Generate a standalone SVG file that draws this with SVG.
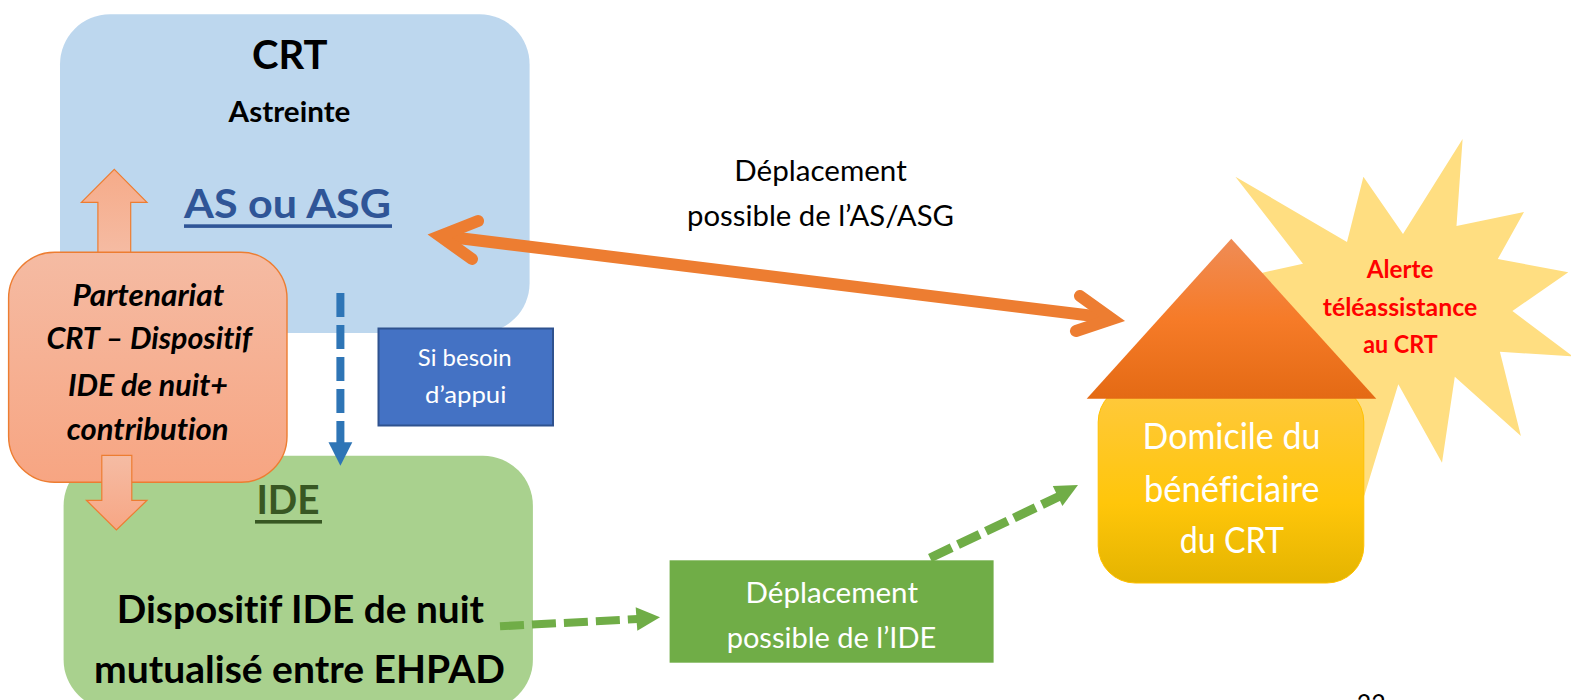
<svg xmlns="http://www.w3.org/2000/svg" width="1571" height="700" viewBox="0 0 1571 700">
<style>
text{font-family:Lato,"Liberation Sans",sans-serif;font-variant-ligatures:none}
.b{font-weight:700}
.i{font-weight:700;font-style:italic;fill:#000}
.w{fill:#fff}
.r{fill:#f00;font-weight:700}
</style>
<defs>
<linearGradient id="gP" x1="0" y1="0" x2="0" y2="1"><stop offset="0" stop-color="#f5bba3"/><stop offset="1" stop-color="#f7a582"/></linearGradient>
<linearGradient id="gU" x1="0" y1="0" x2="0" y2="1"><stop offset="0" stop-color="#f6ab89"/><stop offset="1" stop-color="#f5bca4"/></linearGradient>
<linearGradient id="gD" x1="0" y1="0" x2="0" y2="1"><stop offset="0" stop-color="#f5bca4"/><stop offset="1" stop-color="#f7a684"/></linearGradient>
<linearGradient id="gT" x1="0" y1="0" x2="0" y2="1"><stop offset="0" stop-color="#ef8c56"/><stop offset=".5" stop-color="#f67b28"/><stop offset="1" stop-color="#e46a14"/></linearGradient>
<linearGradient id="gH" x1="0" y1="0" x2="0" y2="1"><stop offset="0" stop-color="#ffc93f"/><stop offset=".6" stop-color="#ffc60a"/><stop offset="1" stop-color="#e4b400"/></linearGradient>
</defs>

<g id="star"><polygon fill="#ffde81" points="1235.4,176.7 1347,242 1363.4,176.7 1403,234 1462.6,139 1456.5,226 1524,212 1497.8,259 1568.3,272.3 1512.4,311 1573,356.5 1499.9,351.7 1520.9,436 1454.8,376.7 1442,462.7 1398.3,384.3 1364.5,495 1340,540 1250,400 1200,320 1262.5,272.7 1303,263.7"/>
<text class="r" font-size="25" x="1400" y="278" text-anchor="middle" textLength="66.7" lengthAdjust="spacingAndGlyphs">Alerte</text>
<text class="r" font-size="25" x="1400" y="315.5" text-anchor="middle" textLength="154.5" lengthAdjust="spacingAndGlyphs">téléassistance</text>
<text class="r" font-size="25" x="1400.5" y="353" text-anchor="middle" textLength="74.5" lengthAdjust="spacingAndGlyphs">au CRT</text></g>

<g id="crt"><rect x="60" y="14.3" width="469.6" height="318.7" rx="50" fill="#bdd7ee"/>
<text class="b" font-size="41" x="289.7" y="69.3" text-anchor="middle" textLength="75.5" lengthAdjust="spacingAndGlyphs">CRT</text>
<text class="b" font-size="28" x="289.5" y="122" text-anchor="middle" textLength="121.8" lengthAdjust="spacingAndGlyphs">Astreinte</text>
<text class="b" font-size="41" x="287.5" y="218.3" text-anchor="middle" textLength="207" lengthAdjust="spacingAndGlyphs" fill="#2f5597">AS ou ASG</text>
<rect x="184" y="224.3" width="208" height="3.6" fill="#2f5597"/></g>

<g id="ide"><rect x="63.6" y="455.7" width="469.3" height="254" rx="50" fill="#a9d18e"/>
<text class="b" font-size="40" x="288" y="514" text-anchor="middle" textLength="63.2" lengthAdjust="spacingAndGlyphs" fill="#385723">IDE</text>
<rect x="255" y="520" width="67" height="3.6" fill="#385723"/>
<text class="b" font-size="38" x="300.4" y="623.3" text-anchor="middle" textLength="367.2" lengthAdjust="spacingAndGlyphs">Dispositif IDE de nuit</text>
<text class="b" font-size="38" x="299.5" y="683" text-anchor="middle" textLength="411" lengthAdjust="spacingAndGlyphs">mutualisé entre EHPAD</text></g>

<g id="arrow-up"><polygon fill="url(#gU)" stroke="#ed7d31" stroke-width="1.2" points="114.3,169.3 147,202.3 130.7,202.3 130.7,257.3 97.9,257.3 97.9,202.3 81.4,202.3"/></g>
<g id="partenariat"><rect x="8.6" y="252.3" width="278.4" height="230" rx="46" fill="url(#gP)" stroke="#ed7d31" stroke-width="1.4"/>
<text class="i" font-size="30" x="148.4" y="305.5" text-anchor="middle" textLength="151.8" lengthAdjust="spacingAndGlyphs">Partenariat</text>
<text class="i" font-size="30" x="149.1" y="348.5" text-anchor="middle" textLength="205.4" lengthAdjust="spacingAndGlyphs">CRT – Dispositif</text>
<text class="i" font-size="30" x="147.9" y="395.5" text-anchor="middle" textLength="160" lengthAdjust="spacingAndGlyphs">IDE de nuit+</text>
<text class="i" font-size="30" x="147.7" y="439.8" text-anchor="middle" textLength="161.8" lengthAdjust="spacingAndGlyphs">contribution</text></g>
<g id="arrow-down"><polygon fill="url(#gD)" stroke="#ed7d31" stroke-width="1.2" points="101.8,455.3 131.8,455.3 131.8,500.3 147,500.3 116.4,530 86.4,500.3 101.8,500.3"/></g>

<g id="besoin"><rect x="378.5" y="328.5" width="174.5" height="97" fill="#4472c4" stroke="#2f528f" stroke-width="2"/>
<text class="w" font-size="24" x="464.8" y="365.5" text-anchor="middle" textLength="93.9" lengthAdjust="spacingAndGlyphs">Si besoin</text>
<text class="w" font-size="24" x="465.7" y="403" text-anchor="middle" textLength="81.4" lengthAdjust="spacingAndGlyphs">d’appui</text></g>

<g id="depl-ide"><rect x="669.6" y="560.3" width="324" height="102.4" fill="#70ad47"/>
<text class="w" font-size="29" x="831.8" y="602.7" text-anchor="middle" textLength="172.4" lengthAdjust="spacingAndGlyphs">Déplacement</text>
<text class="w" font-size="29" x="831.5" y="647.7" text-anchor="middle" textLength="209.7" lengthAdjust="spacingAndGlyphs">possible de l’IDE</text></g>

<g id="domicile"><rect x="1098.2" y="385" width="265.6" height="198" rx="37" fill="url(#gH)" stroke="#ffc000" stroke-width="1"/>
<text class="w" font-size="36" x="1231.5" y="449" text-anchor="middle" textLength="177.8" lengthAdjust="spacingAndGlyphs">Domicile du</text>
<text class="w" font-size="36" x="1231.8" y="501.7" text-anchor="middle" textLength="175.6" lengthAdjust="spacingAndGlyphs">bénéficiaire</text>
<text class="w" font-size="36" x="1231.9" y="553" text-anchor="middle" textLength="104.1" lengthAdjust="spacingAndGlyphs">du CRT</text></g>
<g id="toit"><polygon fill="url(#gT)" points="1231.3,238.7 1376.3,398.7 1086.7,398.7"/></g>

<g id="connectors">
<g fill="none" stroke="#ed7d31" stroke-width="12" stroke-linecap="round" stroke-linejoin="miter" stroke-miterlimit="10">
<line x1="442" y1="236" x2="1110" y2="318" stroke-linecap="butt"/>
<polyline points="478,221 440,236 472,259"/>
<polyline points="1080,296 1112,319 1076,331"/>
</g>
<line x1="340.4" y1="293" x2="340.4" y2="445" stroke="#2e75b6" stroke-width="8" stroke-dasharray="24 8"/>
<polygon fill="#2e75b6" points="340.4,465.7 328.5,442.3 352.3,442.3"/>
<line x1="500" y1="626.3" x2="638" y2="619" stroke="#70ad47" stroke-width="8" stroke-dasharray="24 8"/>
<polygon fill="#70ad47" points="660,617.3 635.7,607.3 637.3,630.7"/>
<line x1="930" y1="558" x2="1060" y2="496" stroke="#70ad47" stroke-width="9" stroke-dasharray="24 7"/>
<polygon fill="#70ad47" points="1078,485 1052.8,486 1062.4,506"/>
</g>

<g id="labels">
<text font-size="29" x="820.5" y="181" text-anchor="middle" textLength="172.5" lengthAdjust="spacingAndGlyphs">Déplacement</text>
<text font-size="29" x="820.5" y="226" text-anchor="middle" textLength="267" lengthAdjust="spacingAndGlyphs">possible de l’AS/ASG</text>
<text font-size="27" x="1371.3" y="714" text-anchor="middle" textLength="29" lengthAdjust="spacingAndGlyphs">22</text>
</g>
</svg>
